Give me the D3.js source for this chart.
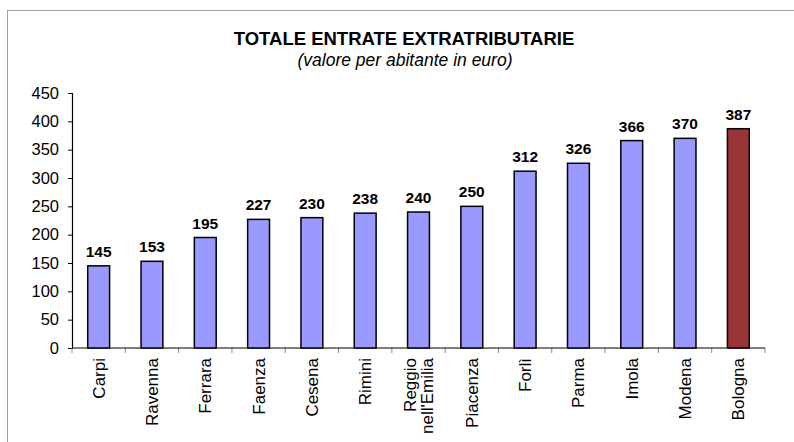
<!DOCTYPE html>
<html>
<head>
<meta charset="utf-8">
<script src="https://cdn.jsdelivr.net/npm/d3@7"></script>
<style>
    body { margin: 0; background: #fff; }
    svg { display: block; font-family: "Liberation Sans", Arial, sans-serif; }
</style>
</head>
<body>
<div id="chart"></div>
<script>
    // data
    const cities = ['Carpi', 'Ravenna', 'Ferrara', 'Faenza', 'Cesena', 'Rimini', "Reggio\nnell'Emilia",
        'Piacenza', 'Forlì', 'Parma', 'Imola', 'Modena', 'Bologna'];
    const values = [145, 153, 195, 227, 230, 238, 240, 250, 312, 326, 366, 370, 387];
    const yTicks = [0, 50, 100, 150, 200, 250, 300, 350, 400, 450];
    const highlight = 'Bologna';

    const width = 794, height = 442;
    const margin = {top: 93, right: 29, bottom: 94, left: 72};
    const innerW = width - margin.left - margin.right;
    const innerH = height - margin.top - margin.bottom;

    const svg = d3.select('#chart').append('svg')
        .attr('width', width)
        .attr('height', height);

    // outer frame
    svg.append('rect')
        .attr('x', 7.5).attr('y', 10.5)
        .attr('width', width).attr('height', height)
        .attr('fill', 'none')
        .attr('stroke', '#a0a0a0')
        .attr('stroke-width', 1);

    svg.append('text')
        .attr('x', 404).attr('y', 45)
        .attr('text-anchor', 'middle')
        .style('font-weight', 'bold')
        .style('font-size', '18.5px')
        .text('TOTALE ENTRATE EXTRATRIBUTARIE');

    svg.append('text')
        .attr('x', 405).attr('y', 66)
        .attr('text-anchor', 'middle')
        .style('font-style', 'italic')
        .style('font-size', '17.5px')
        .text('(valore per abitante in euro)');

    const g = svg.append('g').attr('transform', 'translate(' + margin.left + ',' + margin.top + ')');

    const x = d3.scaleBand().domain(cities).range([0, innerW]).paddingInner(0.59).paddingOuter(0.295);
    const y = d3.scaleLinear().domain([0, 450]).range([innerH, 0]);

    // y axis
    const yAxis = g.append('g')
        .call(d3.axisLeft(y).tickValues(yTicks).tickSize(4).tickPadding(9));
    yAxis.select('.domain').attr('stroke', '#000').attr('stroke-width', 1.2);
    yAxis.selectAll('text').style('font-size', '16.5px').attr('fill', '#000');

    // x axis line and separators between categories
    const band = innerW / cities.length;
    const xg = g.append('g').attr('transform', 'translate(0,' + innerH + ')');
    xg.selectAll('line.sep')
        .data(d3.range(cities.length + 1)).enter()
        .append('line')
        .attr('class', 'sep')
        .attr('x1', d => d * band).attr('x2', d => d * band)
        .attr('y1', 0).attr('y2', 5)
        .attr('stroke', '#888');

    // bars
    g.selectAll('.bar')
        .data(values).enter()
        .append('rect')
        .attr('class', 'bar')
        .attr('x', (d, i) => x(cities[i]))
        .attr('y', d => y(d))
        .attr('width', x.bandwidth())
        .attr('height', d => innerH - y(d))
        .attr('fill', (d, i) => cities[i] === highlight ? '#993535' : '#9999ff')
        .attr('stroke', '#000')
        .attr('stroke-width', 1.5);

    xg.append('line')
        .attr('x1', 0).attr('x2', innerW)
        .attr('stroke', '#000').attr('stroke-width', 1.2);

    // value labels
    g.selectAll('.val')
        .data(values).enter()
        .append('text')
        .attr('class', 'val')
        .attr('x', (d, i) => x(cities[i]) + x.bandwidth() / 2)
        .attr('y', d => y(d) - 9)
        .attr('text-anchor', 'middle')
        .style('font-weight', 'bold')
        .style('font-size', '15.5px')
        .text(d => d);

    // category labels, rotated
    const lbl = xg.selectAll('.cat')
        .data(cities).enter()
        .append('text')
        .attr('class', 'cat')
        .attr('transform', d => 'translate(' + (x(d) + x.bandwidth() / 2) + ',10) rotate(-90)')
        .attr('text-anchor', 'end')
        .style('font-size', '17px');
    lbl.each(function (d) {
        const lines = d.split('\n');
        const t = d3.select(this);
        lines.forEach((s, k) => {
            t.append('tspan')
                .attr('x', 0)
                .attr('dy', k === 0 ? (6 - (lines.length - 1) * 8.5) : 17)
                .text(s);
        });
    });
</script>
</body>
</html>
